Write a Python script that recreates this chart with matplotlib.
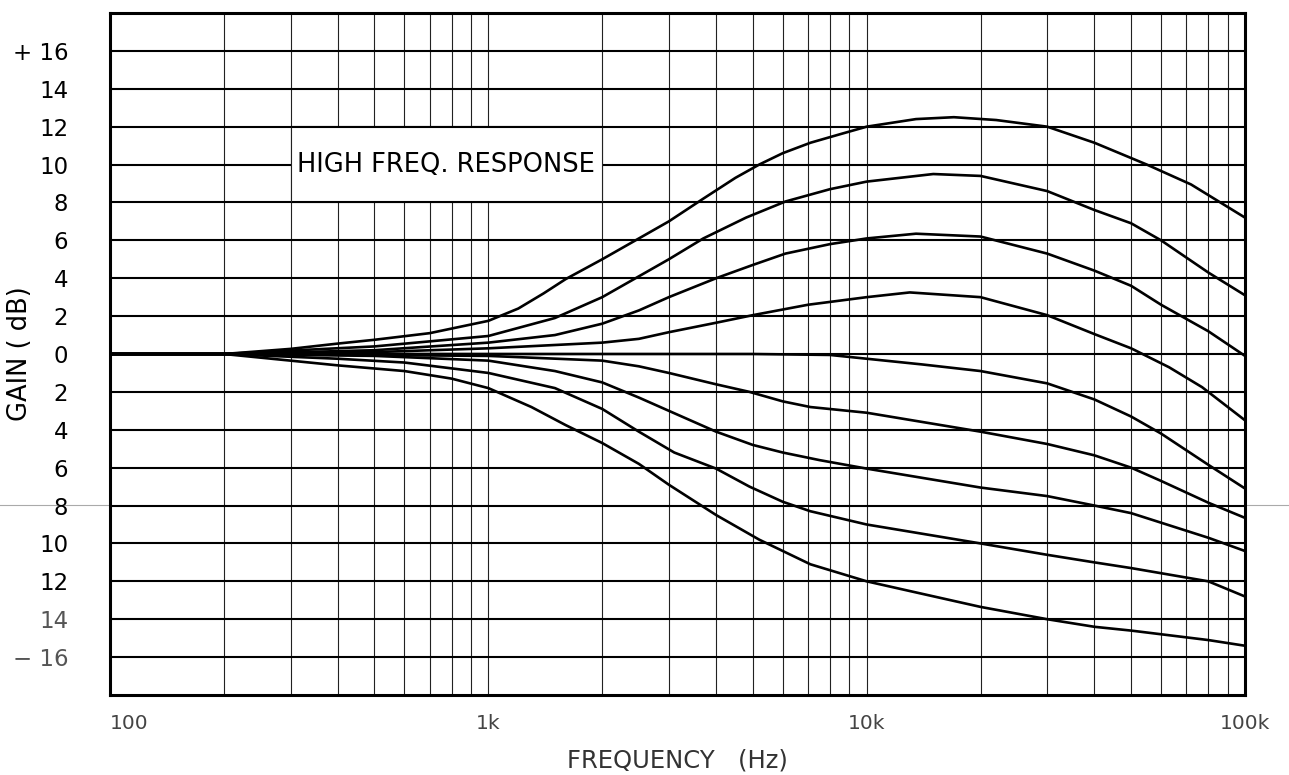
import matplotlib.pyplot as plt
from matplotlib.patches import Rectangle
from matplotlib.lines import Line2D

# frequency (Hz) and gain (dB), curves from top to bottom
f1 = [100, 200, 300, 400, 500, 700, 1000, 1200, 1400, 1600, 2000, 2500, 3000, 3700, 4500, 5200, 6000, 7100, 8500, 10000, 13500, 17000, 22000, 30000, 40000, 55000, 72000, 100000]
g1 = [0, 0, 0.27, 0.55, 0.75, 1.1, 1.75, 2.4, 3.2, 3.95, 5.0, 6.1, 7.0, 8.2, 9.3, 10.0, 10.6, 11.15, 11.6, 12.0, 12.4, 12.5, 12.35, 12.0, 11.15, 10.0, 8.95, 7.2]

f2 = [100, 200, 300, 500, 1000, 1500, 2000, 2500, 3000, 3700, 4800, 6100, 8000, 10000, 15000, 20000, 30000, 40000, 50000, 60000, 80000, 100000]
g2 = [0, 0, 0.18, 0.4, 0.95, 1.9, 3.0, 4.1, 5.0, 6.1, 7.2, 8.05, 8.7, 9.1, 9.5, 9.4, 8.6, 7.6, 6.9, 6.0, 4.3, 3.1]

f3 = [100, 200, 500, 1000, 1500, 2000, 2500, 3000, 4000, 5000, 6100, 8000, 10000, 13500, 20000, 30000, 40000, 50000, 60000, 80000, 100000]
g3 = [0, 0, 0.2, 0.6, 1.0, 1.6, 2.3, 3.0, 4.0, 4.7, 5.3, 5.8, 6.1, 6.35, 6.2, 5.3, 4.4, 3.6, 2.6, 1.2, -0.1]

f4 = [100, 200, 500, 1000, 2000, 2500, 3000, 4000, 5000, 7000, 10000, 13000, 20000, 30000, 40000, 50000, 63000, 77000, 100000]
g4 = [0, 0, 0.1, 0.3, 0.6, 0.8, 1.15, 1.65, 2.05, 2.6, 3.0, 3.25, 3.0, 2.05, 1.05, 0.3, -0.7, -1.75, -3.5]

f5 = [100, 200, 1000, 5000, 8000, 10000, 14000, 20000, 30000, 40000, 50000, 60000, 80000, 100000]
g5 = [0, 0, 0, 0, -0.05, -0.25, -0.55, -0.9, -1.55, -2.4, -3.3, -4.2, -5.85, -7.1]

f6 = [100, 200, 1000, 2000, 2500, 3000, 4000, 4900, 6000, 7100, 10000, 20000, 30000, 40000, 50000, 60000, 80000, 100000]
g6 = [0, 0, -0.1, -0.35, -0.65, -1.0, -1.6, -2.0, -2.5, -2.8, -3.1, -4.1, -4.75, -5.35, -6.0, -6.7, -7.85, -8.65]

f7 = [100, 200, 500, 1000, 1500, 2000, 2500, 3000, 4000, 5000, 6000, 7500, 10000, 20000, 30000, 40000, 50000, 80000, 100000]
g7 = [0, 0, -0.1, -0.35, -0.9, -1.5, -2.3, -3.0, -4.1, -4.8, -5.2, -5.6, -6.05, -7.05, -7.5, -8.0, -8.4, -9.7, -10.4]

f8 = [100, 200, 400, 600, 1000, 1500, 2000, 2500, 3100, 4000, 4900, 6000, 7100, 10000, 20000, 30000, 40000, 50000, 80000, 100000]
g8 = [0, 0, -0.25, -0.45, -1.0, -1.8, -2.9, -4.1, -5.2, -6.05, -7.0, -7.8, -8.3, -9.0, -10.0, -10.6, -11.0, -11.3, -12.0, -12.8]

f9 = [100, 200, 300, 400, 600, 800, 1000, 1300, 1600, 2000, 2500, 3000, 4000, 5200, 7100, 10000, 13600, 20000, 30000, 40000, 50000, 80000, 100000]
g9 = [0, 0, -0.35, -0.6, -0.9, -1.3, -1.8, -2.8, -3.75, -4.7, -5.8, -6.9, -8.5, -9.8, -11.1, -12.0, -12.6, -13.35, -14.0, -14.4, -14.6, -15.1, -15.4]

curves = [(f1, g1), (f2, g2), (f3, g3), (f4, g4), (f5, g5), (f6, g6), (f7, g7), (f8, g8), (f9, g9)]

ytick_vals = list(range(-16, 17, 2))
ytick_text = ['\u2212 16', '14', '12', '10', '8', '6', '4', '2', '0',
              '2', '4', '6', '8', '10', '12', '14', '+ 16']
xtick_vals = [100, 1000, 10000, 100000]
xtick_text = ['100', '1k', '10k', '100k']

box_f = (300, 2000)
box_db = (8, 12)
title = 'HIGH FREQ. RESPONSE'

fig = plt.figure(figsize=(12.89, 7.75), dpi=100)
ax = fig.add_axes([110 / 1289, 1 - 695 / 775, 1135 / 1289, 682 / 775])

ax.set_xscale('log')
ax.set_xlim(100, 100000)
ax.set_ylim(-18, 18)

# grid like the printed graph paper
ax.set_axisbelow(True)
ax.set_yticks(ytick_vals)
ax.set_yticklabels(ytick_text, fontsize=16.5)
ax.set_xticks(xtick_vals)
ax.set_xticklabels(xtick_text, fontsize=14.5, color='#444444')
ax.grid(True, which='major', axis='y', color='black', linewidth=1.5)
ax.grid(True, which='both', axis='x', color='#222222', linewidth=0.8)
ax.tick_params(which='both', length=0)
ax.tick_params(axis='y', pad=30)
ax.tick_params(axis='x', pad=14)
for lab in ax.get_yticklabels()[:2]:
    lab.set_color('#555555')
xl = ax.get_xticklabels()
xl[0].set_horizontalalignment('left')

for s in ax.spines.values():
    s.set_linewidth(2.2)
    s.set_color('black')

# white label box over the grid
ax.add_patch(Rectangle((box_f[0], box_db[0]), box_f[1] - box_f[0], box_db[1] - box_db[0],
                       facecolor='white', edgecolor='none', zorder=0.8))
ax.hlines(box_db, box_f[0], box_f[1], color='black', linewidth=1.5, zorder=0.9)
ax.vlines(box_f, box_db[0], box_db[1], color='#222222', linewidth=0.8, zorder=0.9)
ax.text((box_f[0] * box_f[1]) ** 0.5, (box_db[0] + box_db[1]) / 2, title,
        ha='center', va='center', fontsize=18.5, zorder=3)

for f, g in curves:
    ax.plot(f, g, color='black', linewidth=1.9, zorder=2, solid_capstyle='round')

ax.set_xlabel('FREQUENCY   (Hz)', fontsize=17.5, color='#333333')
ax.xaxis.set_label_coords(0.5, -0.078)
ax.set_ylabel('GAIN ( dB)', fontsize=18.5)
ax.yaxis.set_label_coords(-0.068, 0.5)

# faint scan line across the page
fig.add_artist(Line2D([0, 1], [1 - 505 / 775, 1 - 505 / 775], color='#aaaaaa', linewidth=0.8, zorder=0))

fig.savefig('out.png', dpi=100)
